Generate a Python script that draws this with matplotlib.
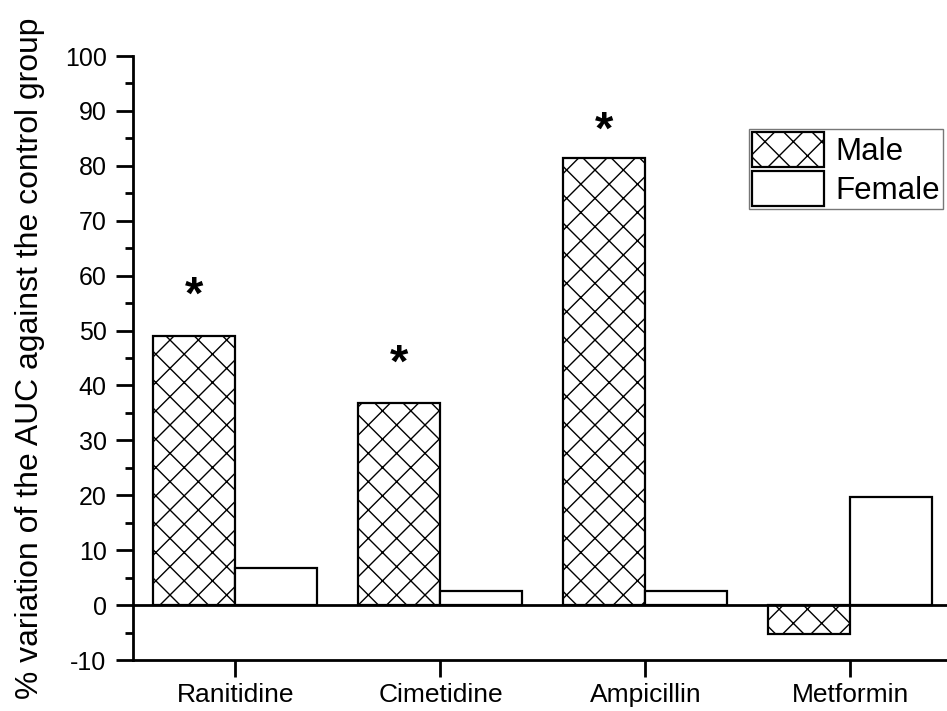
import numpy as np
import matplotlib
matplotlib.use("Agg")
import matplotlib.pyplot as plt

# hatch spacing in Agg follows the dpi, so render at 85 dpi and scale point sizes up
DPI = 85
S = 100 / DPI

plt.rcParams["font.family"] = ["Liberation Sans", "DejaVu Sans"]
plt.rcParams["hatch.linewidth"] = 1.0 * S
plt.rcParams["hatch.color"] = "#222222"
plt.rcParams["axes.unicode_minus"] = False

drugs = ["Ranitidine", "Cimetidine", "Ampicillin", "Metformin"]
male = [49.0, 36.9, 81.5, -5.3]
female = [6.8, 2.5, 2.5, 19.7]
# significance markers (drug index, baseline height of the asterisk)
star_idx = [0, 1, 2]
star_y = [54.0, 41.6, 84.0]

fig = plt.figure(figsize=(947 / DPI, 711 / DPI), dpi=DPI)
ax = fig.add_axes([0.1404, 0.0717, 0.8659, 0.8495])

x = np.arange(1, len(drugs) + 1)
w = 0.4
ax.bar(x - w / 2, male, w, facecolor="white", edgecolor="black", linewidth=1.6 * S,
       hatch="x", label="Male")
ax.bar(x + w / 2, female, w, facecolor="white", edgecolor="black", linewidth=1.6 * S,
       label="Female")

ax.axhline(0, color="black", lw=2 * S, zorder=3)

for i, y in zip(star_idx, star_y):
    ax.text(x[i] - w / 2, y, "*", ha="center", va="baseline", fontsize=34 * S,
            fontweight="bold")

ax.set_xlim(0.5, 4.5)
ax.set_ylim(-10, 100)
ax.set_xticks(x)
ax.set_xticklabels(drugs)
ax.set_yticks(np.arange(-10, 101, 10))
ax.set_yticks(np.arange(-5, 100, 10), minor=True)

for s in ["top", "right"]:
    ax.spines[s].set_visible(False)
for s in ["left", "bottom"]:
    ax.spines[s].set_linewidth(2 * S)

ax.tick_params(axis="both", which="major", direction="out", length=12 * S,
               width=2 * S)
ax.tick_params(axis="y", which="major", pad=7 * S, labelsize=18 * S)
ax.tick_params(axis="x", which="major", pad=4.5 * S, labelsize=19 * S)
ax.tick_params(axis="y", which="minor", direction="out", length=6 * S, width=2 * S)

ax.set_ylabel("% variation of the AUC against the control group", fontsize=23 * S,
              labelpad=14.5 * S)

leg = ax.legend(loc="upper left", bbox_to_anchor=(749 / 947, 1 - 129 / 711),
                bbox_transform=fig.transFigure, fontsize=22.5 * S, frameon=True,
                fancybox=False, edgecolor="#555555", borderpad=0.1,
                handlelength=2.3, handleheight=1.35, handletextpad=0.35,
                labelspacing=0.12, borderaxespad=0)
leg.get_frame().set_linewidth(1.0 * S)

fig.savefig("out.png", dpi=DPI, facecolor="white")
